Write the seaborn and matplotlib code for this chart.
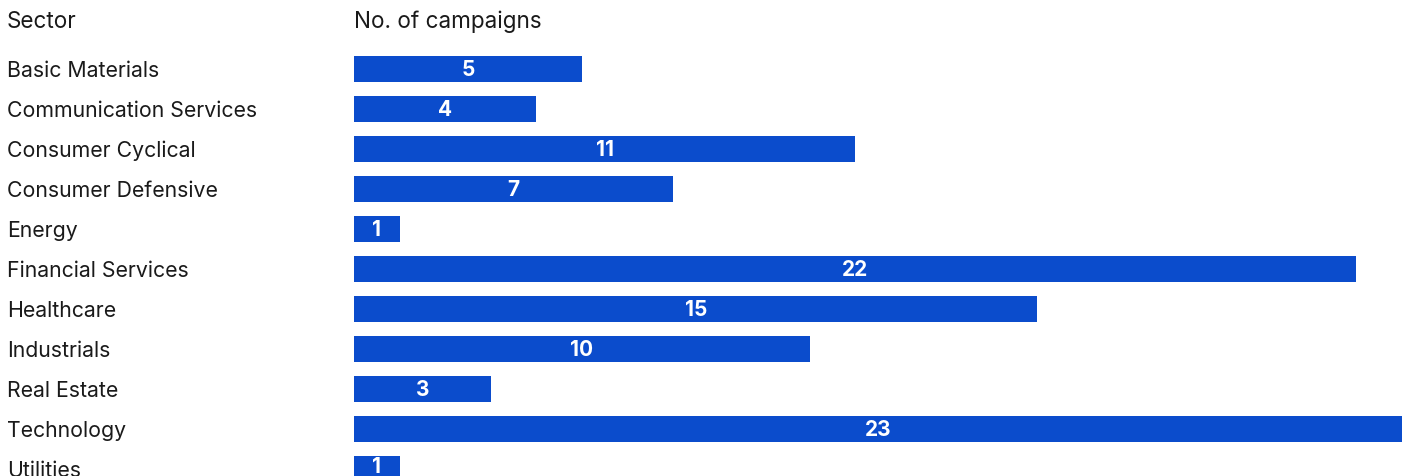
import matplotlib
matplotlib.use("Agg")
import matplotlib.pyplot as plt
import matplotlib.transforms as mtransforms
import seaborn as sns
import pandas as pd

sectors = ["Basic Materials", "Communication Services", "Consumer Cyclical",
           "Consumer Defensive", "Energy", "Financial Services", "Healthcare",
           "Industrials", "Real Estate", "Technology", "Utilities"]
campaigns = [5, 4, 11, 7, 1, 22, 15, 10, 3, 23, 1]

sns.set_theme(style="white")
plt.rcParams['font.family'] = ['Inter', 'DejaVu Sans']

W, H = 1405, 477
fig = plt.figure(figsize=(W / 100, H / 100), dpi=100)
# axes from x=354..1402 px, y top 49 px to bottom 477 px
ax = fig.add_axes([354 / W, 0, (1402 - 354) / W, 428 / H])

df = pd.DataFrame({"Sector": sectors, "Campaigns": campaigns})
sns.barplot(data=df, x="Campaigns", y="Sector", orient="h", color="#0b4ccc",
            saturation=1, width=0.66, linewidth=0, ax=ax)
ax.set_xlim(0, 23)
ax.set_ylim(10.17, -0.53)
ax.set_axis_off()

for c in ax.containers:
    ax.bar_label(c, label_type="center", color="white", fontweight="bold",
                 fontsize=15)

trans = mtransforms.blended_transform_factory(fig.transFigure, ax.transData)
for i, s in enumerate(sectors):
    ax.text(7 / W, i + 0.02, s, transform=trans, ha="left", va="center",
            fontsize=15.3, color="#1a1a1a", clip_on=False)

fig.text(7 / W, 1 - 22 / H, "Sector", ha="left", va="center", fontsize=16.2,
         color="#1a1a1a")
fig.text(354 / W, 1 - 22 / H, "No. of campaigns", ha="left", va="center",
         fontsize=16.2, color="#1a1a1a")

fig.savefig("out.png", dpi=100)
